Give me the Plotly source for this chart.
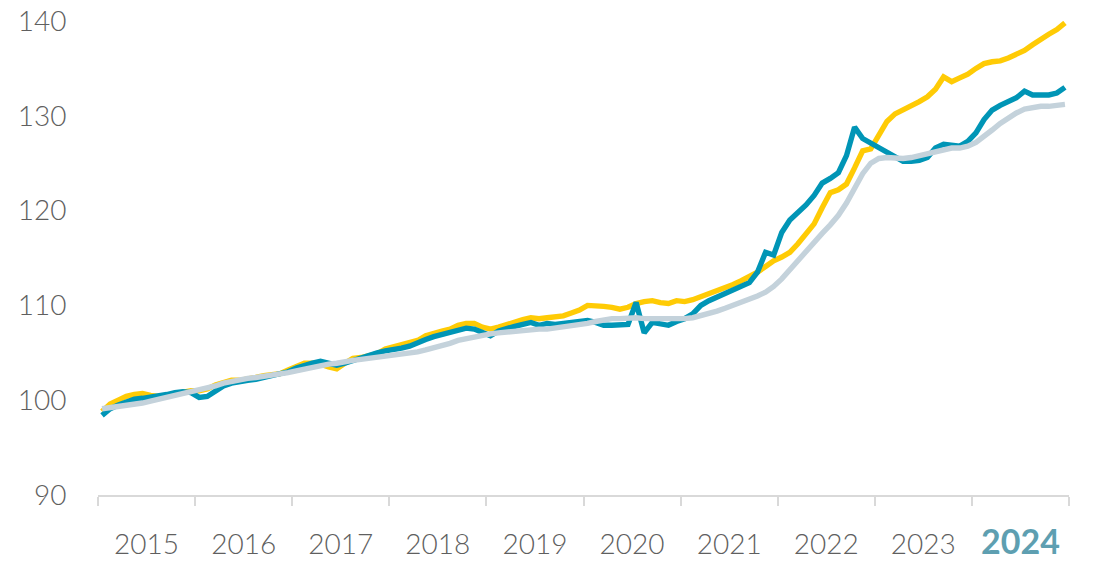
import plotly.graph_objects as go

years = ["2015", "2016", "2017", "2018", "2019", "2020", "2021", "2022", "2023", "2024"]

yellow_vals = [
    98.8, 99.6, 100.0, 100.4, 100.6, 100.7, 100.5, 100.4, 100.5, 100.7, 100.9, 101.0,
    101.0, 101.2, 101.6, 101.9, 102.1, 102.1, 102.2, 102.4, 102.6, 102.7, 102.8, 103.2,
    103.5, 103.9, 103.9, 103.8, 103.5, 103.3, 103.9, 104.4, 104.5, 104.7, 104.9, 105.4,
    105.6, 105.8, 106.0, 106.3, 106.8, 107.1, 107.3, 107.5, 107.9, 108.1, 108.1, 107.7,
    107.5, 107.7, 108.0, 108.3, 108.5, 108.7, 108.6, 108.7, 108.8, 108.9, 109.2, 109.5,
    110.0, 110.0, 109.9, 109.8, 109.6, 109.8, 110.2, 110.4, 110.5, 110.3, 110.2, 110.5,
    110.4, 110.6, 110.9, 111.3, 111.6, 111.9, 112.2, 112.6, 113.0, 113.5, 114.1, 114.7,
    115.1, 115.6, 116.5, 117.5, 118.6, 120.3, 121.9, 122.2, 122.8, 124.5, 126.3, 126.5,
    128.0, 129.4, 130.2, 130.6, 131.0, 131.5, 132.0, 132.8, 134.1, 133.6, 134.0, 134.4,
    135.0, 135.5, 135.7, 135.8, 136.1, 136.5, 136.9, 137.5, 138.1, 138.6, 139.1, 139.8,
]

teal_vals = [
    98.4, 99.1, 99.5, 99.8, 100.1, 100.2, 100.3, 100.4, 100.6, 100.8, 100.9, 100.8,
    100.3, 100.4, 101.0, 101.5, 101.8, 102.0, 102.1, 102.2, 102.4, 102.5, 102.7, 103.0,
    103.4, 103.7, 103.9, 104.1, 103.9, 103.7, 103.9, 104.2, 104.5, 104.8, 105.0, 105.2,
    105.3, 105.5, 105.7, 106.1, 106.4, 106.7, 106.9, 107.1, 107.4, 107.6, 107.5, 107.1,
    106.8, 107.3, 107.6, 107.8, 108.0, 108.2, 107.9, 108.1, 108.0, 108.1, 108.2, 108.4,
    108.4, 108.2, 107.9, 107.9, 108.0, 108.0, 110.3, 107.1, 108.2, 108.1, 107.9, 108.3,
    108.6, 109.1, 110.0, 110.5, 110.9, 111.3, 111.7, 112.0, 112.4, 113.5, 115.6, 115.3,
    117.7, 119.0, 119.8, 120.6, 121.6, 122.9, 123.4, 124.0, 125.8, 128.8, 127.6, 127.1,
    126.7, 126.1, 125.7, 125.2, 125.2, 125.3, 125.6, 126.6, 127.0, 126.9, 126.8, 127.3,
    128.2, 129.6, 130.6, 131.1, 131.5, 131.9, 132.6, 132.2, 132.2, 132.2, 132.4, 133.0,
]

grey_vals = [
    99.1, 99.2, 99.3, 99.4, 99.5, 99.7, 99.9, 100.1, 100.3, 100.5, 100.7, 100.9,
    101.0, 101.2, 101.5, 101.8, 102.0, 102.1, 102.3, 102.4, 102.5, 102.6, 102.7, 102.9,
    103.1, 103.3, 103.5, 103.6, 103.8, 103.9, 104.1, 104.2, 104.3, 104.4, 104.5, 104.6,
    104.7, 104.8, 104.9, 105.1, 105.3, 105.5, 105.7, 106.0, 106.3, 106.5, 106.7, 106.9,
    107.0, 107.1, 107.2, 107.3, 107.4, 107.4, 107.5, 107.5, 107.6, 107.7, 107.8, 107.9,
    108.1, 108.3, 108.5, 108.6, 108.6, 108.7, 108.7, 108.6, 108.6, 108.5, 108.5, 108.5,
    108.6, 108.7, 108.9, 109.1, 109.4, 109.7, 110.0, 110.3, 110.6, 111.0, 111.4, 112.0,
    112.8, 113.8, 114.8, 115.8, 116.6, 117.6, 118.5, 119.5, 120.8, 122.3, 123.9, 125.0,
    125.5, 125.6, 125.5, 125.5, 125.6, 125.8, 126.0, 126.3, 126.5, 126.6, 126.6, 126.8,
    127.2, 127.8, 128.5, 129.2, 129.8, 130.3, 130.7, 130.9, 131.0, 131.0, 131.1, 131.2,
]

y_ticks = [90, 100, 110, 120, 130, 140]

months_per_year = 12
n = len(yellow_vals)
x_vals = [i + 0.5 for i in range(n)]
year_centers = [months_per_year * k + months_per_year / 2 for k in range(len(years))]
year_bounds = [months_per_year * k for k in range(len(years) + 1)]
tick_text = years[:-1] + [
    "<span style='color:#5E9FB1;font-size:34px;font-family:Lato;font-weight:700'>"
    + years[-1] + "</span>"
]

fig = go.Figure()
for vals, color in [(yellow_vals, "#FFCB05"), (teal_vals, "#0095B6"), (grey_vals, "#C4D2DB")]:
    fig.add_trace(go.Scatter(
        x=x_vals, y=vals, mode="lines",
        line=dict(color=color, width=5.4),
        hoverinfo="skip", showlegend=False,
    ))

font_family = "Lato Light, Lato, Open Sans"
label_font = dict(family=font_family, size=28, color="#5F5F5F", weight=300)
fig.update_layout(
    width=1094, height=563,
    margin=dict(l=98, r=25, t=21, b=68, autoexpand=False),
    paper_bgcolor="white", plot_bgcolor="white",
    font=label_font,
    xaxis=dict(
        range=[0, n], automargin=False,
        showgrid=False, zeroline=False,
        showline=True, linecolor="#D9D9D9", linewidth=2,
        tickmode="array", tickvals=year_centers, ticktext=tick_text,
        ticks="", ticklabelstandoff=23, ticklabeloverflow="allow",
        tickfont=label_font,
        minor=dict(tickmode="array", tickvals=year_bounds, ticks="outside",
                   ticklen=9, tickwidth=2, tickcolor="#D9D9D9", showgrid=False),
        fixedrange=True,
    ),
    yaxis=dict(
        range=[90, 140], automargin=False,
        showgrid=False, zeroline=False, showline=False,
        tickmode="array", tickvals=y_ticks,
        ticks="outside", ticklen=25, tickcolor="rgba(0,0,0,0)",
        ticklabeloverflow="allow",
        tickfont=label_font,
        fixedrange=True,
    ),
)

# remove the browser's default 8px page margin so the figure sits at the top-left corner
fig.write_html(
    "out.html",
    config={"displayModeBar": False, "staticPlot": True},
    post_script="document.body.style.margin='0';document.body.style.overflow='hidden';",
)
